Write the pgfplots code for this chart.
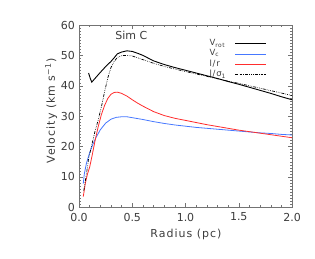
\documentclass[border=0pt]{standalone}
\usepackage{fontspec}
\setmainfont{DejaVu Sans}
\newfontfamily\lsfont{DejaVu Sans}[LetterSpace=9]
\usepackage{pgfplots}
\pgfplotsset{compat=1.18}
\definecolor{myred}{RGB}{255,45,45}
\definecolor{myblue}{RGB}{70,120,255}
\definecolor{txt}{RGB}{60,60,60}
\begin{document}
\begin{tikzpicture}
\useasboundingbox (0,0) rectangle (315pt,258pt);
\begin{axis}[
  scale only axis,
  width=213pt, height=182.3pt,
  at={(79pt,50.7pt)}, anchor=south west,
  xmin=0, xmax=2, ymin=0, ymax=60,
  xtick={0,0.5,1,1.5,2},
  ytick={0,10,20,30,40,50,60},
  minor x tick num=4,
  minor y tick num=9,
  tick align=inside,
  major tick length=4pt,
  minor tick length=2pt,
  axis line style={black!55, line width=0.4pt},
  every tick/.style={black!55, line width=0.4pt},
  /pgf/number format/assume math mode=true,
  ticklabel style={font=\fontsize{11}{13}\selectfont, text=txt},
  xticklabel style={/pgf/number format/fixed, /pgf/number format/precision=1, /pgf/number format/fixed zerofill, yshift=-2pt},
  yticklabel style={xshift=-0.5pt},
  xlabel={\lsfont Radius (pc)},
  ylabel={\lsfont Velocity (km s\textsuperscript{−1})},
  label style={font=\fontsize{11}{13}\selectfont, text=txt},
  xlabel style={at={(axis description cs:0.502,-0.15)}, anchor=center},
  ylabel style={at={(axis description cs:-0.13,0.528)}, anchor=center},
  legend plot pos=right,
  legend cell align=left,
  legend style={draw=none, fill=none, at={(axis description cs:0.897,0.937)}, anchor=north east,
    font=\lsfont\fontsize{8.5}{8.5}\selectfont, text=txt,
    nodes={inner sep=0pt, text height=7pt, text depth=3.3pt},
    column sep=9pt},
  legend image code/.code={\draw[#1] (0pt,0pt) -- (31pt,0pt);},
]
\addplot[black, line width=0.9pt] coordinates {
(0.09,44.2)(0.105,42.5)(0.12,41.2)(0.15,42.4)(0.2,44.4)(0.25,46.3)(0.3,48.0)(0.33,49.2)(0.36,50.5)(0.4,51.1)(0.45,51.5)(0.5,51.3)(0.55,50.7)(0.6,50.0)(0.7,48.2)(0.8,47.0)(0.9,46.0)(1.0,45.1)(1.1,44.2)(1.2,43.3)(1.3,42.4)(1.4,41.4)(1.5,40.5)(1.6,39.5)(1.7,38.5)(1.8,37.5)(1.9,36.4)(2.0,35.4)
};
\addlegendentry{V\textsubscript{rot}}
\addplot[myblue, line width=0.8pt] coordinates {
(0.04,7.8)(0.05,11)(0.07,14.5)(0.1,18)(0.13,20.7)(0.16,23)(0.2,25.5)(0.25,27.7)(0.3,29)(0.35,29.6)(0.4,29.8)(0.45,29.8)(0.5,29.5)(0.6,28.9)(0.7,28.2)(0.8,27.6)(0.9,27.1)(1.0,26.7)(1.1,26.3)(1.2,26.0)(1.3,25.7)(1.4,25.4)(1.5,25.1)(1.6,24.8)(1.7,24.5)(1.8,24.3)(1.9,24.0)(2.0,23.8)
};
\addlegendentry{V\textsubscript{c}}
\addplot[myred, line width=0.8pt] coordinates {
(0.04,3.5)(0.06,8)(0.08,11)(0.1,13.2)(0.12,16.5)(0.15,21.8)(0.18,26.5)(0.21,30.5)(0.24,33.5)(0.27,35.8)(0.3,37.2)(0.33,37.8)(0.36,37.9)(0.4,37.5)(0.45,36.6)(0.5,35.4)(0.55,34.3)(0.6,33.3)(0.7,31.5)(0.8,30.2)(0.9,29.3)(1.0,28.6)(1.1,27.9)(1.2,27.2)(1.3,26.6)(1.4,26.0)(1.5,25.4)(1.6,24.9)(1.7,24.4)(1.8,23.9)(1.9,23.4)(2.0,22.9)
};
\addlegendentry{l/r}
\addplot[black, line width=0.7pt, dash pattern=on 3pt off 1.2pt on 0.6pt off 1.2pt on 0.6pt off 1.2pt on 0.6pt off 1.2pt] coordinates {
(0.045,5.5)(0.07,11)(0.09,16)(0.12,20.5)(0.15,25)(0.18,28.7)(0.21,33)(0.24,38)(0.27,42.5)(0.3,46)(0.33,48)(0.36,49.3)(0.4,49.9)(0.45,50.0)(0.5,49.8)(0.55,49.2)(0.6,48.6)(0.7,47.4)(0.8,46.4)(0.9,45.5)(1.0,44.7)(1.1,43.9)(1.2,43.1)(1.3,42.3)(1.4,41.5)(1.5,40.8)(1.6,40.0)(1.7,39.2)(1.8,38.4)(1.9,37.6)(2.0,36.8)
};
\addlegendentry{l/σ\textsubscript{1}}
\node[font=\fontsize{11}{13}\selectfont, text=txt] at (axis description cs:0.246,0.945) {Sim C};
\end{axis}
\end{tikzpicture}
\end{document}
